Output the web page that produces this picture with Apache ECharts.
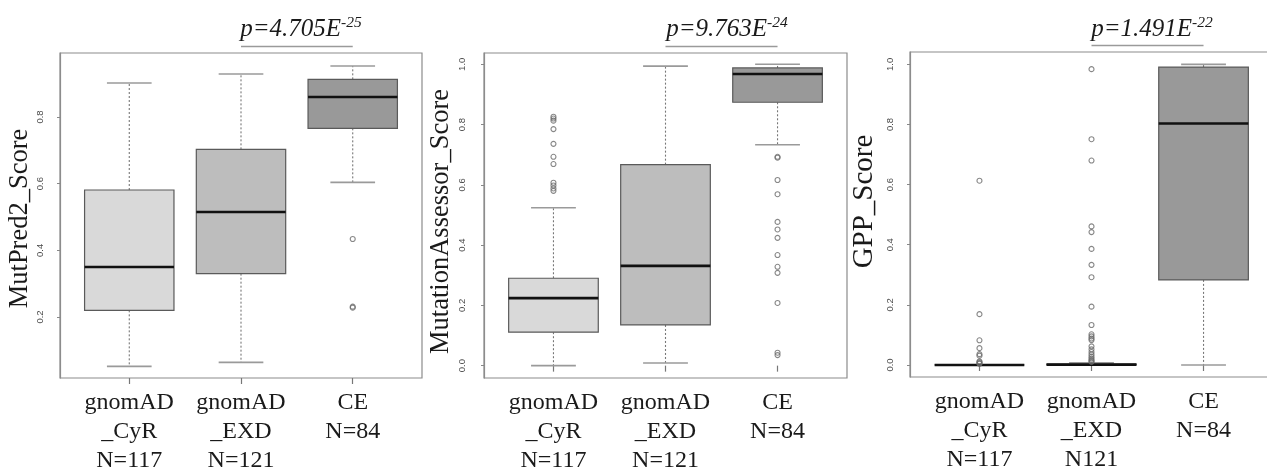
<!DOCTYPE html>
<html>
<head>
<meta charset="utf-8">
<script src="https://cdn.jsdelivr.net/npm/echarts@6/dist/echarts.min.js"></script>
<style>
  html, body { margin: 0; padding: 0; background: #ffffff; }
  #chart { width: 1267px; height: 472px; }
</style>
</head>
<body>
<div id="chart"></div>
<script>
// ---------------- data ----------------
const categoriesA = ['gnomAD\n_CyR\nN=117', 'gnomAD\n_EXD\nN=121', 'CE\nN=84'];
const categoriesGPP = ['gnomAD\n_CyR\nN=117', 'gnomAD\n_EXD\nN121', 'CE\nN=84'];

// box stats: [lowerWhisker, Q1, median, Q3, upperWhisker]
const mutpred2Boxes = [
  [0.052, 0.220, 0.350, 0.581, 0.902],
  [0.064, 0.330, 0.515, 0.703, 0.929],
  [0.604, 0.766, 0.860, 0.913, 0.953]
];
const mutpred2Outliers = [[3, 0.434], [3, 0.231], [3, 0.228]];

const maBoxes = [
  [0.000, 0.111, 0.224, 0.290, 0.524],
  [0.009, 0.135, 0.331, 0.667, 0.994],
  [0.733, 0.874, 0.968, 0.988, 1.000]
];
const maOutliersCyR = [0.826, 0.820, 0.813, 0.785, 0.736, 0.693, 0.669, 0.607, 0.598, 0.588, 0.580];
const maOutliersCE = [0.693, 0.690, 0.616, 0.569, 0.477, 0.452, 0.424, 0.367, 0.328, 0.308, 0.208, 0.043, 0.035];

const gppBoxes = [
  [0.000, 0.000, 0.000, 0.000, 0.000],
  [0.000, 0.000, 0.001, 0.003, 0.007],
  [0.000, 0.283, 0.803, 0.991, 1.000]
];
const gppOutliersCyR = [0.613, 0.169, 0.082, 0.056, 0.036, 0.031, 0.012, 0.009, 0.006, 0.004];
const gppOutliersEXD = [0.984, 0.751, 0.680, 0.461, 0.442, 0.386, 0.333, 0.292, 0.194, 0.133, 0.102, 0.095, 0.088, 0.083, 0.062, 0.052, 0.043, 0.035, 0.028, 0.022, 0.017, 0.013, 0.010];

const yTicksMP2 = [0.2, 0.4, 0.6, 0.8];
const yTicksFull = [0.0, 0.2, 0.4, 0.6, 0.8, 1.0];

const pTexts = [
  { base: 'p=4.705E', exp: '-25' },
  { base: 'p=9.763E', exp: '-24' },
  { base: 'p=1.491E', exp: '-22' }
];
const yNames = ['MutPred2_Score', 'MutationAssessor_Score', 'GPP_Score'];

// ---------------- styling / layout ----------------
const FILLS = ['#d9d9d9', '#bdbdbd', '#999999'];
const SERIF = '"Liberation Serif", "DejaVu Serif", serif';
const SANS = '"Liberation Sans", Arial, sans-serif';
const BOX_WEX = 0.8;

const panels = [
  { grid: { left: 60, top: 53, width: 362, height: 325 }, ymin: 0.017, ymax: 0.992,
    ticks: yTicksMP2, cats: categoriesA, boxes: mutpred2Boxes,
    outliers: mutpred2Outliers, nameSize: 26.5, nameGap: 26, namePad: [0, 6, 0, 0], labelMargin: 15, titleX: 296 },
  { grid: { left: 484, top: 53, width: 363, height: 325 }, ymin: -0.041, ymax: 1.0375,
    ticks: yTicksFull, cats: categoriesA, boxes: maBoxes,
    outliers: maOutliersCyR.map(v => [1, v]).concat(maOutliersCE.map(v => [3, v])),
    nameSize: 26.5, nameGap: 29, namePad: [0, 12, 0, 0], labelMargin: 17, titleX: 722 },
  { grid: { left: 910, top: 52, width: 363, height: 325 }, ymin: -0.04, ymax: 1.041,
    ticks: yTicksFull, cats: categoriesGPP, boxes: gppBoxes,
    outliers: gppOutliersCyR.map(v => [1, v]).concat(gppOutliersEXD.map(v => [2, v])),
    nameSize: 29, nameGap: 31, namePad: [0, 0, 0, 26], labelMargin: 15, titleX: 1147 }
];

function boxRender(params, api) {
  const x = api.value(0);
  const lo = api.value(1), q1 = api.value(2), med = api.value(3), q3 = api.value(4), hi = api.value(5);
  const half = api.size([BOX_WEX, 0])[0] / 2;
  const c = api.coord([x, 0])[0];
  const yLo = api.coord([x, lo])[1], yQ1 = api.coord([x, q1])[1], yMed = api.coord([x, med])[1];
  const yQ3 = api.coord([x, q3])[1], yHi = api.coord([x, hi])[1];
  const cap = half * 0.5;
  const whisk = { stroke: '#777', lineWidth: 1.1, lineDash: [2, 2] };
  const capStyle = { stroke: '#9a9a9a', lineWidth: 1.6 };
  return {
    type: 'group',
    children: [
      { type: 'line', shape: { x1: c, y1: yQ3, x2: c, y2: yHi }, style: whisk },
      { type: 'line', shape: { x1: c, y1: yQ1, x2: c, y2: yLo }, style: whisk },
      { type: 'line', shape: { x1: c - cap, y1: yHi, x2: c + cap, y2: yHi }, style: capStyle },
      { type: 'line', shape: { x1: c - cap, y1: yLo, x2: c + cap, y2: yLo }, style: capStyle },
      { type: 'rect', shape: { x: c - half, y: yQ3, width: 2 * half, height: yQ1 - yQ3 },
        style: { fill: FILLS[params.dataIndex], stroke: '#5a5a5a', lineWidth: 1.2 } },
      { type: 'line', shape: { x1: c - half, y1: yMed, x2: c + half, y2: yMed },
        style: { stroke: '#111', lineWidth: 2.6 } }
    ]
  };
}

function makeBracketRender(ymax) {
  return function (params, api) {
    const p1 = api.coord([api.value(0), ymax]);
    const p2 = api.coord([api.value(1), ymax]);
    const y = p1[1] - 6.5;
    return { type: 'line', shape: { x1: p1[0], y1: y, x2: p2[0], y2: y },
      style: { stroke: '#9a9a9a', lineWidth: 1.3 } };
  };
}

const grid = [], xAxis = [], yAxis = [], series = [], title = [];
panels.forEach((p, i) => {
  grid.push(Object.assign({ show: true, borderColor: '#8c8c8c', borderWidth: 1.2, backgroundColor: 'transparent',
    containLabel: false, outerBoundsMode: 'none' }, p.grid));
  xAxis.push({
    type: 'value', gridIndex: i, min: 0.38, max: 3.62,
    splitLine: { show: false },
    axisLine: { show: false },
    axisTick: { show: true, customValues: [1, 2, 3], length: 6, lineStyle: { color: '#777', width: 1.2 } },
    axisLabel: {
      customValues: [1, 2, 3], margin: 10,
      formatter: v => p.cats[Math.round(v) - 1] || '',
      fontFamily: SERIF, fontSize: 24, lineHeight: 29, color: '#1a1a1a', align: 'center'
    }
  });
  yAxis.push({
    type: 'value', gridIndex: i, min: p.ymin, max: p.ymax,
    name: yNames[i], nameLocation: 'middle', nameGap: p.nameGap, nameRotate: 90,
    nameTextStyle: { fontFamily: SERIF, fontSize: p.nameSize, color: '#1a1a1a', padding: p.namePad },
    splitLine: { show: false },
    axisLine: { show: true, lineStyle: { color: '#8c8c8c', width: 1.2 } },
    axisTick: { show: true, customValues: p.ticks, length: 3, lineStyle: { color: '#888' } },
    axisLabel: {
      customValues: p.ticks, rotate: 90, margin: p.labelMargin,
      formatter: v => v.toFixed(1),
      fontFamily: SANS, fontSize: 9.5, color: '#4a4a4a'
    }
  });
  series.push({
    type: 'custom', xAxisIndex: i, yAxisIndex: i,
    renderItem: boxRender,
    data: p.boxes.map((b, k) => [k + 1].concat(b)),
    z: 2
  });
  series.push({
    type: 'scatter', xAxisIndex: i, yAxisIndex: i,
    data: p.outliers, symbol: 'circle', symbolSize: 5,
    itemStyle: { color: 'rgba(0,0,0,0)', borderColor: '#6a6a6a', borderWidth: 1.1 },
    z: 3
  });
  series.push({
    type: 'custom', xAxisIndex: i, yAxisIndex: i,
    renderItem: makeBracketRender(p.ymax), clip: false,
    data: [[2, 3]], z: 3
  });
  title.push({
    text: '{a|' + pTexts[i].base + '}{s|' + pTexts[i].exp + '}',
    left: p.titleX, top: 10, textAlign: 'center',
    textStyle: {
      fontWeight: 'normal',
      rich: {
        a: { fontFamily: SERIF, fontStyle: 'italic', fontWeight: 'normal', fontSize: 25, color: '#1a1a1a', lineHeight: 28 },
        s: { fontFamily: SERIF, fontStyle: 'italic', fontWeight: 'normal', fontSize: 15.5, color: '#1a1a1a', verticalAlign: 'top', lineHeight: 28, padding: [0, 0, 12, 0] }
      }
    }
  });
});

const chart = echarts.init(document.getElementById('chart'), null, { renderer: 'canvas' });
chart.setOption({
  backgroundColor: '#ffffff',
  animation: false,
  title, grid, xAxis, yAxis, series
});
</script>
</body>
</html>
